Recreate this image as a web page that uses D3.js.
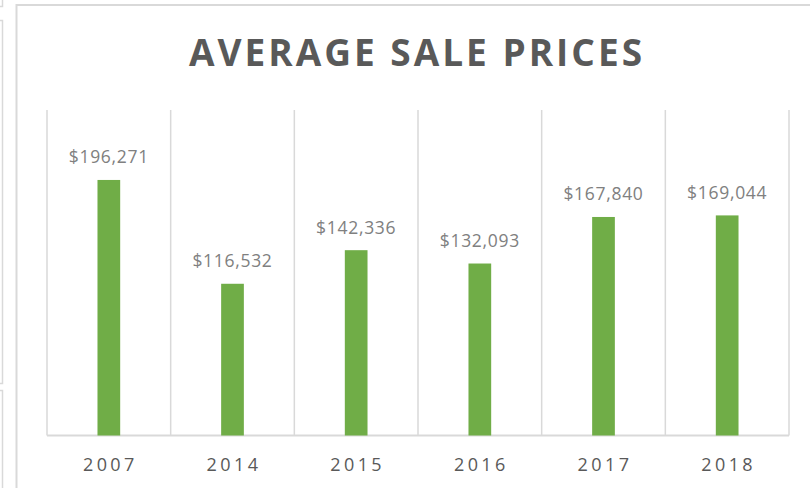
<!DOCTYPE html>
<html><head><meta charset="utf-8">
<script src="https://cdn.jsdelivr.net/npm/d3@7"></script>
<style>
html,body{margin:0;padding:0;background:#fff;}
svg{display:block;}
text{font-family:"Open Sans",sans-serif;}
</style></head>
<body>
<svg id="c" width="810" height="488"></svg>
<script>
const title = "AVERAGE SALE PRICES";
const years = ["2007","2014","2015","2016","2017","2018"];
const prices = [196271,116532,142336,132093,167840,169044];
const yMax = 250000;

const svg = d3.select("#c");
const grey = "#d9d9d9";

// side panel fragments on far left
svg.append("path").attr("d","M0,6.5H2.5V0").attr("fill","none").attr("stroke",grey).attr("stroke-width",1.5);
svg.append("path").attr("d","M0,20.5H2.5V383.5H0").attr("fill","none").attr("stroke",grey).attr("stroke-width",1.5);
svg.append("path").attr("d","M0,390.5H2.5V488").attr("fill","none").attr("stroke",grey).attr("stroke-width",1.5);

// chart frame
svg.append("rect").attr("x",16.5).attr("y",5).attr("width",820).attr("height",500)
  .attr("fill","#fff").attr("stroke",grey).attr("stroke-width",2);

const pLeft=47, pRight=789, pTop=110, pBottom=435.5;
const x = d3.scaleBand().domain(years).range([pLeft,pRight]).paddingInner(0).paddingOuter(0);
const y = d3.scaleLinear().domain([0,yMax]).range([pBottom,pTop]);

// vertical category gridlines
const edges = years.map(d=>x(d)).concat([x(years[years.length-1])+x.bandwidth()]);
svg.append("g").selectAll("line").data(edges).join("line")
  .attr("x1",d=>d).attr("x2",d=>d).attr("y1",y(yMax)).attr("y2",pBottom)
  .attr("stroke",grey).attr("stroke-width",1.5);

// baseline
svg.append("line").attr("x1",pLeft).attr("x2",pRight).attr("y1",pBottom).attr("y2",pBottom)
  .attr("stroke",grey).attr("stroke-width",2);

const barW = 22.7;
svg.append("g").selectAll("rect").data(years).join("rect")
  .attr("x",(d)=>x(d)+x.bandwidth()/2-barW/2)
  .attr("width",barW)
  .attr("y",(d,i)=>y(prices[i]))
  .attr("height",(d,i)=>pBottom-y(prices[i]))
  .attr("fill","#70ad47");

const fmt = d3.format("$,");
svg.append("g").selectAll("text").data(years).join("text")
  .attr("x",d=>x(d)+x.bandwidth()/2)
  .attr("y",(d,i)=>y(prices[i])-16.5)
  .attr("text-anchor","middle")
  .attr("font-size",17.5)
  .attr("letter-spacing",0.7)
  .attr("fill","#808080")
  .text((d,i)=>fmt(prices[i]));

// x axis labels
svg.append("g").selectAll("text").data(years).join("text")
  .attr("x",d=>x(d)+x.bandwidth()/2+1.5)
  .attr("y",470.5)
  .attr("text-anchor","middle")
  .attr("font-size",18)
  .attr("letter-spacing",3.4)
  .attr("fill","#595959")
  .text(d=>d);

svg.append("text").attr("x",417).attr("y",66).attr("text-anchor","middle")
  .attr("font-size",37).attr("font-weight","bold").attr("letter-spacing",3)
  .attr("fill","#595959").text(title);
</script>
</body></html>
